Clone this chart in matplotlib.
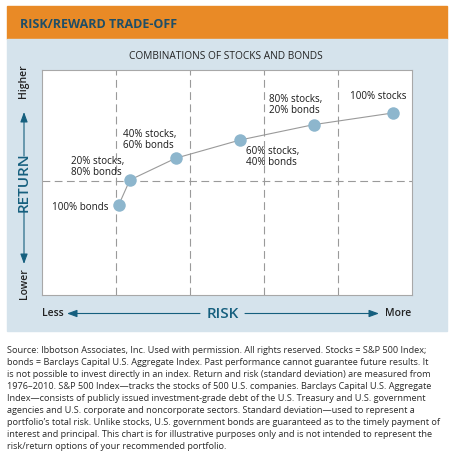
import matplotlib
matplotlib.use("Agg")
import matplotlib.pyplot as plt
from matplotlib.patches import Rectangle

# data (risk / return on a 0-5 / 0-10 scale)
mixes = ["100% bonds", "20% stocks,\n80% bonds", "40% stocks,\n60% bonds",
         "60% stocks,\n40% bonds", "80% stocks,\n20% bonds", "100% stocks"]
risk = [1.04, 1.19, 1.81, 2.68, 3.67, 4.74]
ret = [4.0, 5.11, 6.08, 6.89, 7.57, 8.09]
grid_x = [1, 2, 3, 4]
grid_y = [5.07]

footnote = [
    "Source: Ibbotson Associates, Inc. Used with permission. All rights reserved. Stocks = S&P 500 Index;",
    "bonds = Barclays Capital U.S. Aggregate Index. Past performance cannot guarantee future results. It",
    "is not possible to invest directly in an index. Return and risk (standard deviation) are measured from",
    "1976\u20132010. S&P 500 Index\u2014tracks the stocks of 500 U.S. companies. Barclays Capital U.S. Aggregate",
    "Index\u2014consists of publicly issued investment-grade debt of the U.S. Treasury and U.S. government",
    "agencies and U.S. corporate and noncorporate sectors. Standard deviation\u2014used to represent a",
    "portfolio\u2019s total risk. Unlike stocks, U.S. government bonds are guaranteed as to the timely payment of",
    "interest and principal. This chart is for illustrative purposes only and is not intended to represent the",
    "risk/return options of your recommended portfolio.",
]

plt.rcParams['font.family'] = ['Open Sans', 'DejaVu Sans']
W, H = 453, 468
orange = '#E98A26'
panel = '#D5E3EC'
teal = '#155F7E'
dot = '#8DB6CD'

fig = plt.figure(figsize=(W / 100, H / 100), dpi=100)
fig.patch.set_facecolor('white')

def fx(px):
    return px / W

def fy(py):
    return 1 - py / H

# header bar and light panel
fig.patches.append(Rectangle((fx(7), fy(39)), fx(440), 33 / H, transform=fig.transFigure,
                             color=orange, zorder=-2))
fig.patches.append(Rectangle((fx(7), fy(331)), fx(440), 292 / H, transform=fig.transFigure,
                             color=panel, zorder=-2))
fig.text(fx(20), fy(24.5), "RISK/REWARD TRADE-OFF",
         color='#1F4E66', fontsize=9, fontweight='bold', va='center', ha='left')
fig.text(fx(226), fy(56.5), "COMBINATIONS OF STOCKS AND BONDS", color='#222222',
         fontsize=7.3, va='center', ha='center')

ax = fig.add_axes([fx(41.7), fy(295), fx(370.3), 225 / H])
ax.set_zorder(1)
ax.set_xlim(0, 5)
ax.set_ylim(0, 10)
for x in grid_x:
    ax.axvline(x, color='#9a9a9a', lw=0.8, dashes=(7, 4), zorder=1)
for y in grid_y:
    ax.axhline(y, color='#9a9a9a', lw=0.8, dashes=(7, 4), zorder=1)
ax.plot(risk, ret, color='#9a9a9a', lw=0.8, zorder=2)
ax.plot(risk, ret, 'o', color=dot, markersize=9, markeredgewidth=0, zorder=3)
ax.set_xticks([])
ax.set_yticks([])
for s in ax.spines.values():
    s.set_color('#a8a8a8')
    s.set_linewidth(0.8)

offsets = [(-10, -3), (-59, 13), (-53, 18), (6, -17), (-45, 20), (-43, 16)]
aligns = ['right', 'left', 'left', 'left', 'left', 'left']
for name, x, y, off, ha in zip(mixes, risk, ret, offsets, aligns):
    ax.annotate(name, (x, y), xytext=off, textcoords='offset pixels', ha=ha, va='center',
                fontsize=7.1, color='#1a1a1a', linespacing=1.0)

# RISK axis
fig.text(fx(41.7), fy(313.5), "Less", fontsize=7.5, color='#222222', ha='left', va='center',
         fontweight='semibold')
fig.text(fx(411), fy(313.5), "More", fontsize=7.5, color='#222222', ha='right', va='center',
         fontweight='semibold')
fig.text(fx(222.7), fy(313.5), "RISK", fontsize=11, color=teal, ha='center', va='center',
         fontweight='semibold')
arrow = dict(arrowstyle='-|>,head_length=0.6,head_width=0.22', color=teal, lw=0.8,
             shrinkA=0, shrinkB=0)
fig.add_artist(plt.Annotation("", xy=(fx(67), fy(313.5)), xytext=(fx(200), fy(313.5)),
                              xycoords='figure fraction', arrowprops=arrow))
fig.add_artist(plt.Annotation("", xy=(fx(379), fy(313.5)), xytext=(fx(245), fy(313.5)),
                              xycoords='figure fraction', arrowprops=arrow))

# RETURN axis
fig.text(fx(24), fy(81), "Higher", fontsize=7.5, color='#222222', rotation=90,
         ha='center', va='center', fontweight='semibold')
fig.text(fx(24), fy(283.5), "Lower", fontsize=7.5, color='#222222', rotation=90,
         ha='center', va='center', fontweight='semibold')
fig.text(fx(24), fy(182), "RETURN", fontsize=11, color=teal, rotation=90,
         ha='center', va='center', fontweight='semibold')
fig.add_artist(plt.Annotation("", xy=(fx(24), fy(112)), xytext=(fx(24), fy(156)),
                              xycoords='figure fraction', arrowprops=arrow))
fig.add_artist(plt.Annotation("", xy=(fx(24), fy(264)), xytext=(fx(24), fy(209)),
                              xycoords='figure fraction', arrowprops=arrow))

# footnote
for i, line in enumerate(footnote):
    fig.text(fx(7), fy(350.7 + i * 11.95), line, fontsize=6.6, color='#2a2a2a',
             ha='left', va='center')

fig.savefig('out.png', dpi=100)
